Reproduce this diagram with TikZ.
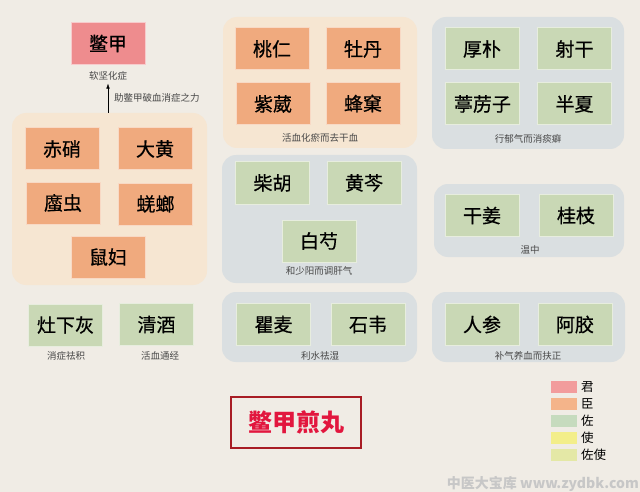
\documentclass[tikz,border=0pt]{standalone}
\usepackage{fontspec}
\newfontfamily\cjk{Noto Sans CJK SC}
\newfontfamily\cjkherb[FakeBold=0.6]{Noto Sans CJK SC}
\usetikzlibrary{arrows.meta}
\definecolor{paper}{HTML}{F0ECE5}
\definecolor{junc}{HTML}{EE8C8E}
\definecolor{chenc}{HTML}{F0AA7E}
\definecolor{zuoc}{HTML}{C9D8B5}
\definecolor{peachg}{HTML}{F6E6D2}
\definecolor{blueg}{HTML}{DADFE1}
\definecolor{titlered}{HTML}{E2163E}
\definecolor{titleframe}{HTML}{A81C24}
\definecolor{legjun}{HTML}{F29C9C}
\definecolor{legchen}{HTML}{F4B48A}
\definecolor{legzuo}{HTML}{C6DBBE}
\definecolor{legshi}{HTML}{F3EE8A}
\definecolor{legzuoshi}{HTML}{E4E8A6}

\begin{document}
\begin{tikzpicture}
[x=1pt,y=-1pt,%
  herb/.style={shape=rectangle,minimum width=74pt,minimum height=42pt,inner sep=0pt,%
    fill=#1,draw=white!55!#1,line width=1pt,font=\cjkherb\fontsize{19}{19}\selectfont},%
  grp/.style={shape=rectangle,rounded corners=14pt,fill=#1,inner sep=0pt},%
  note/.style={font=\cjk\fontsize{9.5}{10}\selectfont,text=black!72,inner sep=1pt},%
  swatch/.style={shape=rectangle,fill=#1,minimum width=26pt,minimum height=12pt,inner sep=0pt},%
  legtext/.style={font=\cjk\fontsize{12.5}{13}\selectfont,anchor=west,inner sep=0pt}]
\useasboundingbox (0,0) rectangle (640,492);
\fill[paper] (0,0) rectangle (640,492);

% groups
\node[grp=peachg,minimum width=195pt,minimum height=172pt] (chenGrp) at (109.5,199) {};
\node[grp=peachg,minimum width=194pt,minimum height=131pt] (xueGrp) at (320,82.5) {};
\node[grp=blueg,minimum width=192pt,minimum height=132pt] (qiGrp) at (528,83) {};
\node[grp=blueg,minimum width=195pt,minimum height=128pt] (ganGrp) at (319.5,219) {};
\node[grp=blueg,minimum width=190pt,minimum height=73pt] (wenGrp) at (529,220.5) {};
\node[grp=blueg,minimum width=195pt,minimum height=70pt] (shiGrp) at (319.5,327) {};
\node[grp=blueg,minimum width=193pt,minimum height=70pt] (buGrp) at (528.5,327) {};

% jun
\node[herb=junc] (biejia) at (108,43.5) {鳖甲};
\node[note] (junNote) at (108,76) {软坚化症};

% chen
\node[herb=chenc] (chixiao) at (62,149) {赤硝};
\node[herb=chenc] (dahuang) at (155,149) {大黄};
\node[herb=chenc] (zhechong) at (63,203) {䗪虫};
\node[herb=chenc] (qianglang) at (155.5,204) {蜣螂};
\node[herb=chenc] (shufu) at (108,257) {鼠妇};

\node[herb=chenc] (taoren) at (272,49) {桃仁};
\node[herb=chenc] (mudan) at (363,49) {牡丹};
\node[herb=chenc] (ziwei) at (273,104) {紫葳};
\node[herb=chenc] (fengke) at (363,103.5) {蜂窠};
\node[note] (xueNote) at (320,138) {活血化瘀而去干血};

% zuo
\node[herb=zuoc] (houpo) at (482,49) {厚朴};
\node[herb=zuoc] (shegan) at (574.5,49) {射干};
\node[herb=zuoc] (tingli) at (482.5,104) {葶苈子};
\node[herb=zuoc] (banxia) at (574.5,104) {半夏};
\node[note] (qiNote) at (528,139) {行郁气而消痰癖};

\node[herb=zuoc] (chaihu) at (272.5,183) {柴胡};
\node[herb=zuoc] (huangqin) at (364,183) {黄芩};
\node[herb=zuoc] (baishao) at (319,241) {白芍};
\node[note] (ganNote) at (319,271) {和少阳而调肝气};

\node[herb=zuoc] (ganjiang) at (482,215.5) {干姜};
\node[herb=zuoc] (guizhi) at (576,215.5) {桂枝};
\node[note] (wenNote) at (530,250) {温中};

\node[herb=zuoc] (zaoxia) at (65.5,325) {灶下灰};
\node[note] (zaoNote) at (66,356) {消症祛积};
\node[herb=zuoc] (qingjiu) at (156.5,324.5) {清酒};
\node[note] (jiuNote) at (160,356) {活血通经};

\node[herb=zuoc] (qumai) at (273.5,324.5) {瞿麦};
\node[herb=zuoc] (shiwei) at (368,324.5) {石韦};
\node[note] (shiNote) at (320,356) {利水祛湿};

\node[herb=zuoc] (renshen) at (482,324.5) {人参};
\node[herb=zuoc] (ejiao) at (575,324.5) {阿胶};
\node[note] (buNote) at (528,356) {补气养血而扶正};

% chen -> jun
\draw[-{Latex[length=5pt,width=3.5pt]},thin] (junNote.south |- chenGrp.north) -- ([yshift=-2pt]junNote.south)
  node[note,midway,anchor=west,xshift=5pt] (zhuNote) {助鳖甲破血消症之力};

% title
\node[draw=titleframe,line width=2.5pt,minimum width=130pt,minimum height=51pt,inner sep=0pt,
  text=titlered,font=\cjk\bfseries\fontsize{24}{24}\selectfont] (title) at (296,422.5) {鳖甲煎丸};

% legend
\node[swatch=legjun] (sJun) at (564,387) {};
\node[swatch=legchen] (sChen) at (564,404) {};
\node[swatch=legzuo] (sZuo) at (564,421) {};
\node[swatch=legshi] (sShi) at (564,438) {};
\node[swatch=legzuoshi] (sZuoshi) at (564,455) {};
\node[legtext] (tJun) at (581,387) {君};
\node[legtext] (tChen) at (581,404) {臣};
\node[legtext] (tZuo) at (581,421) {佐};
\node[legtext] (tShi) at (581,438) {使};
\node[legtext] (tZuoshi) at (581,455) {佐使};

\node[font=\cjk\bfseries\fontsize{14}{14}\selectfont,text=black!22,inner sep=0pt,anchor=east] (mark) at (639,484) {中医大宝库 www.zydbk.com};
\end{tikzpicture}
\end{document}
